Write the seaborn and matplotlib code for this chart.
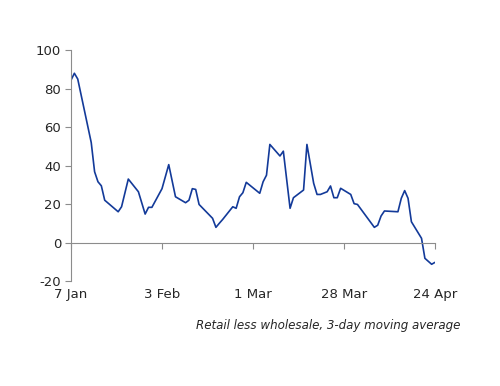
import matplotlib
matplotlib.use("Agg")
import matplotlib.pyplot as plt
import seaborn as sns
import pandas as pd
import numpy as np

# Day offsets from 7 Jan 2008 and values (retail less wholesale, 3-day MA)
day_offsets = [0, 1, 2, 6, 7, 8, 9, 10, 14, 15, 17, 20, 22, 23, 24, 27, 29, 31,
               34, 35, 36, 37, 38, 42, 43, 44, 45, 48, 49, 50, 51, 52, 56, 57,
               58, 59, 62, 63, 65, 66, 69, 70, 72, 73, 74, 76, 77, 78, 79, 80,
               83, 84, 85, 90, 91, 92, 93, 97, 98, 99, 100, 101, 104, 105, 107, 108]
values = [84.4, 88, 85, 52, 36.8, 31.6, 29.5, 22, 16, 18.6, 33, 26.4, 14.8, 18.3,
          18.3, 28, 40.5, 23.8, 20.7, 22, 28, 27.6, 19.8, 12.6, 7.9, 10, 12, 18.6,
          17.8, 23.8, 25.9, 31.3, 25.6, 31.6, 35, 51, 45, 47.5, 17.8, 23.3, 27.3,
          51, 30.8, 25, 25, 26.4, 29.4, 23.3, 23.3, 28.2, 25, 20.2, 19.8, 7.9, 9,
          13.8, 16.4, 16, 23, 27, 23, 10.8, 2.2, -8.2, -11.3, -10.3]
tick_dates = ["2008-01-07", "2008-02-03", "2008-03-01", "2008-03-28", "2008-04-24"]
tick_labels = ["7 Jan", "3 Feb", "1 Mar", "28 Mar", "24 Apr"]
y_ticks = [-20, 0, 20, 40, 60, 80, 100]
caption = "Retail less wholesale, 3-day moving average"

start = pd.Timestamp("2008-01-07")
df = pd.DataFrame({"date": start + pd.to_timedelta(day_offsets, unit="D"),
                   "value": values})

sns.set_style("white")
plt.rcParams["font.family"] = ["DejaVu Sans"]

fig = plt.figure(figsize=(5.0, 3.86), dpi=100)
ax = fig.add_axes([0.142, 0.272, 0.728, 0.598])

sns.lineplot(data=df, x="date", y="value", ax=ax, color="#133a99", linewidth=1.2)

gray = "#8c8c8c"
ax.set_ylim(-20, 100)
ax.set_xlim(pd.Timestamp(tick_dates[0]), pd.Timestamp(tick_dates[-1]))
ax.set_xlabel("")
ax.set_ylabel("")
ax.set_yticks(y_ticks)
ax.set_yticklabels([str(v) for v in y_ticks])
ax.tick_params(axis="y", direction="out", length=4, width=0.8, color=gray,
               labelsize=9.5, pad=3, left=True)

for s in ["top", "right"]:
    ax.spines[s].set_visible(False)
ax.spines["left"].set_color(gray)
ax.spines["left"].set_linewidth(0.8)
ax.spines["bottom"].set_position(("data", 0))
ax.spines["bottom"].set_color(gray)
ax.spines["bottom"].set_linewidth(0.8)

tdates = [pd.Timestamp(d) for d in tick_dates]
ax.set_xticks(tdates)
ax.tick_params(axis="x", direction="out", length=4, width=0.8, color=gray,
               labelbottom=False, bottom=True)

sec = ax.secondary_xaxis("bottom")
sec.set_xticks(tdates)
sec.set_xticklabels(tick_labels)
sec.spines["bottom"].set_visible(False)
sec.tick_params(axis="x", length=0, labelsize=9.5, pad=5)

fig.text(0.921, 0.158, caption, ha="right", va="center", fontsize=8.6,
         style="italic")

fig.savefig("out.png", dpi=100, facecolor="white")
